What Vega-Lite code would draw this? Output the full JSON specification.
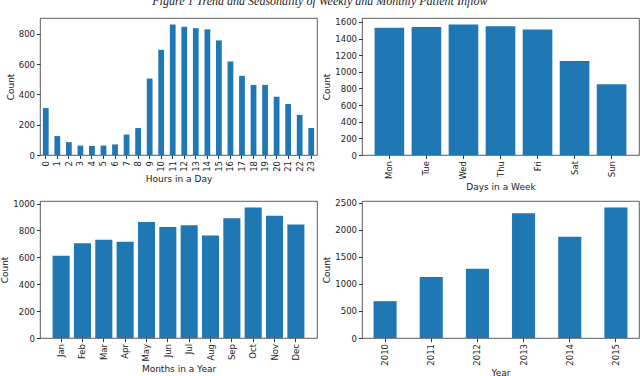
{
  "$schema": "https://vega.github.io/schema/vega-lite/v6.json",
  "background": "white",
  "padding": {"left": 0, "top": -6, "right": 0, "bottom": 0},
  "title": {"text": "Figure 1 Trend and Seasonality of Weekly and Monthly Patient Inflow", "font": "Liberation Serif", "fontStyle": "italic", "fontWeight": "normal", "fontSize": 12, "color": "#222", "anchor": "middle", "offset": 10},
  "datasets": {
    "hours": [
      {"h": "0", "c": 310}, {"h": "1", "c": 125}, {"h": "2", "c": 85}, {"h": "3", "c": 62},
      {"h": "4", "c": 60}, {"h": "5", "c": 62}, {"h": "6", "c": 70}, {"h": "7", "c": 135},
      {"h": "8", "c": 178}, {"h": "9", "c": 505}, {"h": "10", "c": 695}, {"h": "11", "c": 862},
      {"h": "12", "c": 848}, {"h": "13", "c": 838}, {"h": "14", "c": 830}, {"h": "15", "c": 757},
      {"h": "16", "c": 618}, {"h": "17", "c": 523}, {"h": "18", "c": 463}, {"h": "19", "c": 463},
      {"h": "20", "c": 385}, {"h": "21", "c": 337}, {"h": "22", "c": 265}, {"h": "23", "c": 178}
    ],
    "days": [
      {"d": "Mon", "c": 1530}, {"d": "Tue", "c": 1540}, {"d": "Wed", "c": 1570}, {"d": "Thu", "c": 1550},
      {"d": "Fri", "c": 1510}, {"d": "Sat", "c": 1130}, {"d": "Sun", "c": 850}
    ],
    "months": [
      {"m": "Jan", "c": 612}, {"m": "Feb", "c": 705}, {"m": "Mar", "c": 730}, {"m": "Apr", "c": 715},
      {"m": "May", "c": 863}, {"m": "Jun", "c": 825}, {"m": "Jul", "c": 838}, {"m": "Aug", "c": 762},
      {"m": "Sep", "c": 890}, {"m": "Oct", "c": 970}, {"m": "Nov", "c": 910}, {"m": "Dec", "c": 845}
    ],
    "years": [
      {"y": "2010", "c": 680}, {"y": "2011", "c": 1125}, {"y": "2012", "c": 1280},
      {"y": "2013", "c": 2305}, {"y": "2014", "c": 1870}, {"y": "2015", "c": 2410}
    ]
  },
  "config": {
    "font": "DejaVu Sans",
    "view": {"stroke": "#333", "strokeWidth": 0.8},
    "bar": {"color": "#1f77b4"},
    "axis": {
      "grid": false, "domain": false, "labelFontSize": 8.5, "titleFontSize": 9,
      "labelColor": "#222", "titleColor": "#222", "titleFontWeight": "normal",
      "tickColor": "#333", "tickSize": 3.5, "labelPadding": 2, "titlePadding": 3
    },
    "axisY": {"format": "d"},
    "axisX": {"labelAngle": 270, "labelBaseline": "middle", "labelAlign": "right"}
  },
  "vconcat": [
    {
      "hconcat": [
        {
          "data": {"name": "hours"},
          "width": 277, "height": 137,
          "mark": "bar",
          "encoding": {
            "x": {"field": "h", "type": "ordinal", "sort": null, "title": "Hours in a Day",
                  "scale": {"paddingInner": 0.5, "paddingOuter": 0.25}},
            "y": {"field": "c", "type": "quantitative", "title": "Count",
                  "scale": {"domain": [0, 905], "nice": false},
                  "axis": {"values": [0, 200, 400, 600, 800]}}
          }
        },
        {
          "data": {"name": "days"},
          "width": 277, "height": 137,
          "mark": "bar",
          "encoding": {
            "x": {"field": "d", "type": "ordinal", "sort": null, "title": "Days in a Week",
                  "scale": {"paddingInner": 0.2, "paddingOuter": 0.34}},
            "y": {"field": "c", "type": "quantitative", "title": "Count",
                  "scale": {"domain": [0, 1648], "nice": false},
                  "axis": {"values": [0, 200, 400, 600, 800, 1000, 1200, 1400, 1600]}}
          }
        }
      ],
      "spacing": 4
    },
    {
      "hconcat": [
        {
          "data": {"name": "months"},
          "width": 277, "height": 137,
          "mark": "bar",
          "encoding": {
            "x": {"field": "m", "type": "ordinal", "sort": null, "title": "Months in a Year",
                  "scale": {"paddingInner": 0.2, "paddingOuter": 0.59}},
            "y": {"field": "c", "type": "quantitative", "title": "Count",
                  "scale": {"domain": [0, 1019], "nice": false},
                  "axis": {"values": [0, 200, 400, 600, 800, 1000]}}
          }
        },
        {
          "data": {"name": "years"},
          "width": 277, "height": 137,
          "mark": "bar",
          "encoding": {
            "x": {"field": "y", "type": "ordinal", "sort": null, "title": "Year",
                  "scale": {"paddingInner": 0.5, "paddingOuter": 0.25}},
            "y": {"field": "c", "type": "quantitative", "title": "Count",
                  "scale": {"domain": [0, 2530], "nice": false},
                  "axis": {"values": [0, 500, 1000, 1500, 2000, 2500]}}
          }
        }
      ],
      "spacing": 4
    }
  ],
  "spacing": 6
}
